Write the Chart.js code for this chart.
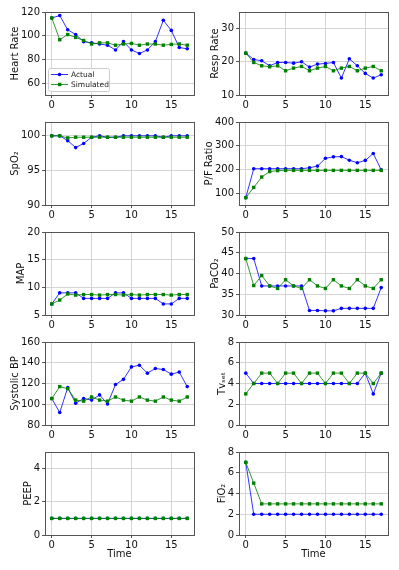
<!DOCTYPE html>
<html>
<head>
<meta charset="utf-8">
<script src="https://cdn.jsdelivr.net/npm/chart.js@4/dist/chart.umd.min.js"></script>
<style>
    body { margin: 0; background: #fff; }
    #wrap { position: relative; width: 399px; height: 570px; overflow: hidden; }
    #wrap canvas { position: absolute; }
</style>
</head>
<body>
<div id="wrap"></div>
<script>
const time = [0, 1, 2, 3, 4, 5, 6, 7, 8, 9, 10, 11, 12, 13, 14, 15, 16, 17];
const xTicks = [0, 5, 10, 15];

const hrActual = [115, 117, 105, 101, 95, 94, 93, 92, 88, 95, 88, 85, 88, 95, 113, 104.5, 90, 89];
const hrSim = [115, 96.6, 101, 98.6, 96, 93, 94, 94, 92, 93, 93.5, 92, 93, 93, 92, 92.7, 93, 92];

const rrActual = [22.6, 20.7, 20.3, 18.8, 19.8, 19.8, 19.6, 20, 18.4, 19.3, 19.5, 19.8, 15.1, 20.9, 18.8, 16.5, 15.1, 16.1];
const rrSim = [22.6, 19.8, 18.8, 18.5, 18.8, 17.3, 18.1, 18.6, 17.3, 18.1, 18.6, 17.3, 18.1, 18.6, 17.3, 18.1, 18.6, 17.3];

const spo2Actual = [100, 100, 99.3, 98.3, 98.9, 99.8, 100, 99.8, 99.8, 100, 100, 100, 100, 100, 99.8, 100, 100, 100];
const spo2Sim = [100, 100, 99.7, 99.8, 99.8, 99.8, 99.8, 99.8, 99.8, 99.8, 99.8, 99.8, 99.8, 99.8, 99.8, 99.8, 99.8, 99.8];

const pfActual = [81, 203, 203, 203, 203, 203, 203, 203, 207, 214, 247, 253, 254, 239, 228, 238, 267, 198];
const pfSim = [81, 124, 168, 191, 195, 196, 196, 196, 196, 196, 196, 196, 196, 196, 196, 196, 196, 196];

const mapActual = [7, 9, 9, 9, 8, 8, 8, 8, 9, 9, 8, 8, 8, 8, 7, 7, 8, 8];
const mapSim = [7, 7.7, 8.8, 8.6, 8.7, 8.7, 8.6, 8.7, 8.7, 8.6, 8.7, 8.6, 8.7, 8.7, 8.7, 8.6, 8.7, 8.7];

const paco2Actual = [43.6, 43.6, 37, 37, 37, 37, 37, 37, 31.1, 31.1, 31, 31, 31.6, 31.6, 31.6, 31.6, 31.6, 36.6];
const paco2Sim = [43.6, 37.1, 39.5, 37, 36.4, 38.5, 37, 36.4, 38.5, 37, 36.4, 38.5, 37, 36.4, 38.5, 37, 36.4, 38.5];

const sbpActual = [105.5, 92, 116, 101, 105.5, 104, 109, 100.3, 119, 124, 136, 137.6, 130, 134.4, 133.5, 129, 131, 117];
const sbpSim = [105.5, 117, 115, 104, 103, 107, 104, 103, 107, 104, 103, 107, 104, 103, 107, 104, 103, 107];

const tvActual = [5, 4, 4, 4, 4, 4, 4, 4, 4, 4, 4, 4, 4, 4, 4, 5, 3, 5];
const tvSim = [3, 4, 5, 5, 4, 5, 5, 4, 5, 5, 4, 5, 5, 4, 5, 5, 4, 5];

const peepActual = [1, 1, 1, 1, 1, 1, 1, 1, 1, 1, 1, 1, 1, 1, 1, 1, 1, 1];
const peepSim = [1, 1, 1, 1, 1, 1, 1, 1, 1, 1, 1, 1, 1, 1, 1, 1, 1, 1];

const fio2Actual = [7, 2, 2, 2, 2, 2, 2, 2, 2, 2, 2, 2, 2, 2, 2, 2, 2, 2];
const fio2Sim = [7, 5, 3, 3, 3, 3, 3, 3, 3, 3, 3, 3, 3, 3, 3, 3, 3, 3];

const panels = [
    { label: 'Heart Rate', actual: hrActual, sim: hrSim, min: 50, max: 120, ticks: [60, 80, 100, 120], legend: true },
    { label: 'Resp Rate', actual: rrActual, sim: rrSim, min: 10, max: 35, ticks: [10, 20, 30] },
    { label: 'SpO₂', actual: spo2Actual, sim: spo2Sim, min: 90, max: 102, ticks: [90, 95, 100] },
    { label: 'P/F Ratio', actual: pfActual, sim: pfSim, min: 50, max: 400, ticks: [100, 200, 300, 400] },
    { label: 'MAP', actual: mapActual, sim: mapSim, min: 5, max: 20, ticks: [5, 10, 15, 20] },
    { label: 'PaCO₂', actual: paco2Actual, sim: paco2Sim, min: 30, max: 50, ticks: [30, 35, 40, 45, 50] },
    { label: 'Systolic BP', actual: sbpActual, sim: sbpSim, min: 80, max: 160, ticks: [80, 100, 120, 140, 160] },
    { label: 'Tvₛₑₜ', actual: tvActual, sim: tvSim, min: 0, max: 8, ticks: [0, 2, 4, 6, 8] },
    { label: 'PEEP', actual: peepActual, sim: peepSim, min: 0, max: 5, ticks: [0, 2, 4] },
    { label: 'FiO₂', actual: fio2Actual, sim: fio2Sim, min: 0, max: 8, ticks: [0, 2, 4, 6, 8] }
];

const FONT = 'DejaVu Sans';
const colLeft = [45, 239];
const rowTop = [12, 122, 232, 342, 452];
const plotW = 149, plotH = 83, axisW = 45, padTop = 8, padRight = 6;

// box around the plot area (matplotlib spines)
const framePlugin = {
    id: 'frame',
    afterDatasetsDraw(chart) {
        const a = chart.chartArea, ctx = chart.ctx;
        ctx.save();
        ctx.strokeStyle = '#555';
        ctx.lineWidth = 1;
        ctx.strokeRect(Math.round(a.left) + 0.5, Math.round(a.top) + 0.5,
            Math.round(a.right - a.left), Math.round(a.bottom - a.top));
        ctx.restore();
    }
};

// legend box inside the heart rate panel
const legendPlugin = {
    id: 'insideLegend',
    afterDraw(chart, args, opts) {
        if (!opts.show) return;
        const a = chart.chartArea, ctx = chart.ctx;
        const x = a.left + 3, y = a.bottom - 27, w = 61, h = 23;
        ctx.save();
        ctx.fillStyle = 'rgba(255,255,255,0.85)';
        ctx.strokeStyle = '#ccc';
        ctx.lineWidth = 1;
        ctx.beginPath();
        ctx.roundRect(x + 0.5, y + 0.5, w, h, 2);
        ctx.fill();
        ctx.stroke();
        ctx.font = '7.5px "' + FONT + '"';
        ctx.textBaseline = 'middle';
        const rows = [
            { text: 'Actual', line: 'rgba(0,0,255,0.8)', pt: '#0000ff', sq: false, yy: y + 6.5 },
            { text: 'Simulated', line: 'rgba(0,128,0,0.8)', pt: '#008000', sq: true, yy: y + 16.5 }
        ];
        rows.forEach(r => {
            ctx.strokeStyle = r.line;
            ctx.beginPath();
            ctx.moveTo(x + 3, r.yy);
            ctx.lineTo(x + 20, r.yy);
            ctx.stroke();
            ctx.fillStyle = r.pt;
            if (r.sq) {
                ctx.fillRect(x + 10, r.yy - 1.7, 3.4, 3.4);
            } else {
                ctx.beginPath();
                ctx.arc(x + 11.5, r.yy, 1.8, 0, Math.PI * 2);
                ctx.fill();
            }
            ctx.fillStyle = '#222';
            ctx.fillText(r.text, x + 23, r.yy + 0.5);
        });
        ctx.restore();
    }
};

const wrap = document.getElementById('wrap');

panels.forEach((p, i) => {
    const col = i % 2, row = Math.floor(i / 2);
    const bottomRow = row === 4;
    const xAxisH = bottomRow ? 25 : 22;
    const cw = axisW + plotW + padRight, ch = padTop + plotH + (bottomRow ? 34 : 22);

    // the y label sits next to the widest tick label, like matplotlib
    const digits = Math.max(...p.ticks.map(v => String(v).length));
    const titleCenter = axisW - digits * 6.36 - 10.5;

    const canvas = document.createElement('canvas');
    canvas.width = cw;
    canvas.height = ch;
    canvas.style.left = (colLeft[col] - axisW) + 'px';
    canvas.style.top = (rowTop[row] - padTop) + 'px';
    canvas.style.width = cw + 'px';
    canvas.style.height = ch + 'px';
    wrap.appendChild(canvas);

    const toPts = arr => time.map((t, k) => ({ x: t, y: arr[k] }));

    new Chart(canvas, {
        type: 'line',
        data: {
            datasets: [
                {
                    label: 'Actual',
                    data: toPts(p.actual),
                    borderColor: 'rgba(0,0,255,0.8)',
                    backgroundColor: '#0000ff',
                    borderWidth: 1,
                    pointStyle: 'circle',
                    pointRadius: 1.8,
                    pointBorderWidth: 0,
                    tension: 0,
                    order: 1
                },
                {
                    label: 'Simulated',
                    data: toPts(p.sim),
                    borderColor: 'rgba(0,128,0,0.8)',
                    backgroundColor: '#008000',
                    borderWidth: 1,
                    pointStyle: 'rect',
                    pointRadius: 2.4,
                    pointBorderWidth: 0,
                    tension: 0,
                    order: 0
                }
            ]
        },
        options: {
            responsive: false,
            animation: false,
            devicePixelRatio: 1,
            layout: { padding: { top: padTop, right: padRight, left: 0, bottom: bottomRow ? 9 : 0 } },
            plugins: {
                legend: { display: false },
                tooltip: { enabled: false },
                insideLegend: { show: !!p.legend }
            },
            scales: {
                x: {
                    type: 'linear',
                    min: -0.85,
                    max: 17.85,
                    afterBuildTicks: ax => { ax.ticks = xTicks.map(v => ({ value: v })); },
                    afterFit: ax => { ax.height = xAxisH; },
                    grid: { color: '#d4d4d4', tickColor: '#555', tickLength: 3 },
                    border: { display: false },
                    ticks: { color: '#111', font: { family: FONT, size: 10 }, padding: 1, maxRotation: 0, autoSkip: false },
                    title: { display: bottomRow, text: 'Time', color: '#111', font: { family: FONT, size: 10 }, padding: { top: 0, bottom: 0 } }
                },
                y: {
                    min: p.min,
                    max: p.max,
                    afterBuildTicks: ax => { ax.ticks = p.ticks.map(v => ({ value: v })); },
                    afterFit: ax => { ax.width = axisW; },
                    grid: { color: '#d4d4d4', tickColor: '#555', tickLength: 3 },
                    border: { display: false },
                    ticks: { color: '#111', font: { family: FONT, size: 10 }, padding: 2, autoSkip: false },
                    title: { display: true, text: p.label, color: '#111', font: { family: FONT, size: 10 }, padding: { top: titleCenter - 6, bottom: 2 } }
                }
            }
        },
        plugins: [framePlugin, legendPlugin]
    });
});
</script>
</body>
</html>
